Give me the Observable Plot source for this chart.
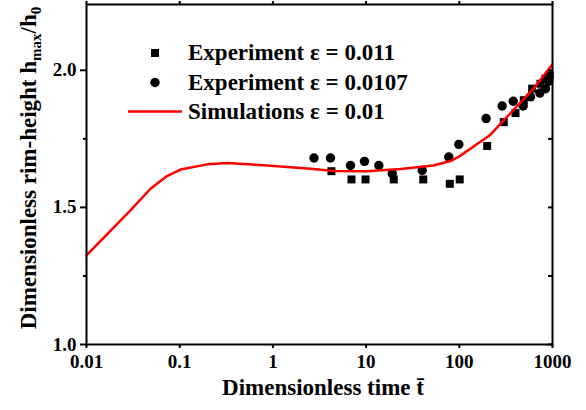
<!DOCTYPE html>
<html><head><meta charset="utf-8">
<script src="https://cdn.jsdelivr.net/npm/d3@7"></script>
<script src="https://cdn.jsdelivr.net/npm/@observablehq/plot@0.6"></script>
<style>
html,body{margin:0;padding:0;background:#fff;}
#chart{width:586px;height:410px;}
</style></head><body><div id="chart"></div>
<script>
// Simulation curve (epsilon = 0.01)
const simT = [0.01, 0.0296, 0.0486, 0.0721, 0.102, 0.197, 0.323, 0.869, 2.53, 4.5, 10.3, 23.4, 52.8, 80.5, 100, 211, 321, 625, 1000];
const simV = [1.325, 1.489, 1.568, 1.613, 1.638, 1.657, 1.662, 1.653, 1.641, 1.633, 1.632, 1.640, 1.653, 1.669, 1.686, 1.762, 1.828, 1.933, 2.022];
// Experiment epsilon = 0.011 (squares)
const sqT = [4.25, 6.97, 9.86, 19.8, 41.0, 79.1, 101, 199, 300, 401, 492, 605, 743, 841, 935];
const sqV = [1.632, 1.602, 1.602, 1.602, 1.602, 1.586, 1.602, 1.724, 1.811, 1.844, 1.891, 1.933, 1.951, 1.970, 1.982];
// Experiment epsilon = 0.0107 (circles)
const ciT = [2.76, 4.15, 6.80, 9.61, 13.7, 19.1, 40.0, 77.1, 98.8, 194, 288, 379, 485, 581, 731, 841, 912];
const ciV = [1.680, 1.680, 1.653, 1.668, 1.653, 1.623, 1.635, 1.684, 1.730, 1.824, 1.870, 1.887, 1.870, 1.903, 1.917, 1.933, 1.960];

const xTicks = [0.01, 0.1, 1, 10, 100, 1000];
const xTickLabels = ["0.01", "0.1", "1", "10", "100", "1000"];
const yTicks = [1.0, 1.5, 2.0];
const yTickLabels = ["1.0", "1.5", "2.0"];
const yMinor = [1.25, 1.75];
const legendLabels = ["Experiment \u03b5 = 0.011", "Experiment \u03b5 = 0.0107", "Simulations \u03b5 = 0.01"];
const xTitle = "Dimensionless time ";
const yTitle = "Dimensionless rim-height h";

const sim = simT.map((t, i) => ({t, v: simV[i]}));
const squares = sqT.map((t, i) => ({t, v: sqV[i]}));
const circles = ciT.map((t, i) => ({t, v: ciV[i]}));

const FONT = "'Liberation Serif','Times New Roman',serif";

const plot = Plot.plot({
  width: 586, height: 410,
  marginLeft: 86, marginRight: 34, marginTop: 4, marginBottom: 66,
  style: {fontFamily: FONT, fontWeight: "bold", fontSize: "19px", color: "#000", background: "#fff", overflow: "visible"},
  x: {type: "log", domain: [0.01, 1000]},
  y: {domain: [1, 2.24]},
  marks: [
    Plot.dot(squares, {x: "t", y: "v", symbol: "square", r: 4.5, fill: "#000", stroke: "none"}),
    Plot.dot(circles, {x: "t", y: "v", symbol: "circle", r: 4.7, fill: "#000", stroke: "none"}),
    Plot.line(sim, {x: "t", y: "v", stroke: "#ff0000", strokeWidth: 2.5}),
    Plot.axisX({ticks: xTicks, tickFormat: d => xTickLabels[xTicks.indexOf(d)], tickSize: 4, tickPadding: 6, strokeWidth: 2, label: null, fontSize: 19}),
    Plot.axisX({anchor: "top", ticks: xTicks, tickFormat: () => "", tickSize: 4, strokeWidth: 2, label: null}),
    Plot.axisY({ticks: yTicks, tickFormat: d => yTickLabels[yTicks.indexOf(d)], tickSize: 6, tickPadding: 4, strokeWidth: 2, label: null, fontSize: 19}),
    Plot.axisY({ticks: yMinor, tickFormat: () => "", tickSize: 3, strokeWidth: 2, label: null}),
    Plot.axisY({anchor: "right", ticks: yTicks.concat(yMinor), tickFormat: () => "", tickSize: -5, strokeWidth: 2, label: null}),
    Plot.frame({stroke: "#000", strokeWidth: 2})
  ]
});
document.getElementById("chart").appendChild(plot);

const svg = d3.select(plot);
// X title
const xt = svg.append("text")
  .attr("x", 323).attr("y", 395)
  .attr("text-anchor", "middle")
  .style("font-family", FONT).style("font-weight", "bold").style("font-size", "23px")
  .attr("fill", "#000");
xt.append("tspan").text(xTitle);
xt.append("tspan").text("t\u0304");

// Y title
const yt = svg.append("text")
  .attr("transform", "translate(36,168) rotate(-90)")
  .attr("text-anchor", "middle")
  .style("font-family", FONT).style("font-weight", "bold").style("font-size", "23px")
  .attr("fill", "#000");
yt.append("tspan").text(yTitle);
yt.append("tspan").attr("dy", 5).style("font-size", "15px").text("max");
yt.append("tspan").attr("dy", -5).text("/h");
yt.append("tspan").attr("dy", 5).style("font-size", "15px").text("0");

// Legend
const lg = svg.append("g").attr("text-anchor", "start").style("font-family", FONT).style("font-weight", "bold").style("font-size", "23px");
const rows = [53, 82.5, 111.5];
lg.append("rect").attr("x", 151).attr("y", rows[0] - 4).attr("width", 8).attr("height", 8).attr("fill", "#000");
lg.append("circle").attr("cx", 155).attr("cy", rows[1]).attr("r", 4.7).attr("fill", "#000");
lg.append("line").attr("x1", 128).attr("x2", 182).attr("y1", rows[2]).attr("y2", rows[2]).attr("stroke", "#ff0000").attr("stroke-width", 2.5);
legendLabels.forEach((s, i) => {
  lg.append("text").attr("x", 188).attr("y", rows[i] + 7).attr("text-anchor", "start").attr("fill", "#000").text(s);
});
</script></body></html>
